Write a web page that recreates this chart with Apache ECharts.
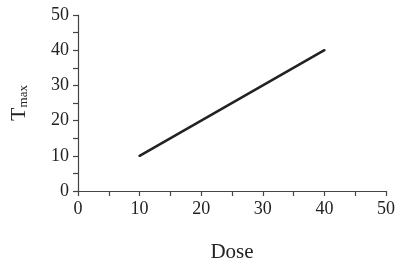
<!DOCTYPE html>
<html><head><meta charset="utf-8">
<script src="https://cdn.jsdelivr.net/npm/echarts@6/dist/echarts.min.js"></script>
<style>html,body{margin:0;padding:0;background:#fff}#c{width:400px;height:269px}</style>
</head><body><div id="c"></div>
<script>
const doses = [10, 40];
const tmax = [10, 40];
const xTicks = [0, 10, 20, 30, 40, 50];
const yTicks = [0, 10, 20, 30, 40, 50];

const chart = echarts.init(document.getElementById('c'), null, {renderer: 'canvas'});
const font = 'Liberation Serif';
const axisCommon = {
  min: 0, max: 50, interval: 5,
  axisLine: {show: true, lineStyle: {color: '#444', width: 1.2}},
  axisTick: {show: true, inside: false, length: 5, lineStyle: {color: '#444', width: 1.2}},
  splitLine: {show: false},
  axisLabel: {fontFamily: font, fontSize: 18, color: '#222',
    formatter: v => (yTicks.indexOf(v) >= 0 ? String(v) : '')}
};
chart.setOption({
  animation: false,
  grid: {left: 75, right: 14, top: 15, bottom: 78, containLabel: false},
  xAxis: Object.assign({}, axisCommon, {
    type: 'value', name: 'Dose', nameLocation: 'middle', nameGap: 51,
    nameTextStyle: {fontFamily: font, fontSize: 21, color: '#222'},
    axisLabel: Object.assign({}, axisCommon.axisLabel, {margin: 9,
      formatter: v => (xTicks.indexOf(v) >= 0 ? String(v) : '')})
  }),
  yAxis: Object.assign({}, axisCommon, {
    type: 'value', name: 'T{sub|max}', nameLocation: 'middle', nameGap: 48,
    nameTextStyle: {fontFamily: font, fontSize: 22, color: '#222',
      rich: {sub: {fontFamily: font, fontSize: 13, color: '#222', padding: [9, 0, 0, 0]}}},
    axisLabel: Object.assign({}, axisCommon.axisLabel, {margin: 9})
  }),
  series: [{
    type: 'line', data: doses.map((d, i) => [d, tmax[i]]),
    showSymbol: false, symbol: 'none',
    lineStyle: {color: '#222', width: 2.5, cap: 'round'}
  }]
});
</script></body></html>
